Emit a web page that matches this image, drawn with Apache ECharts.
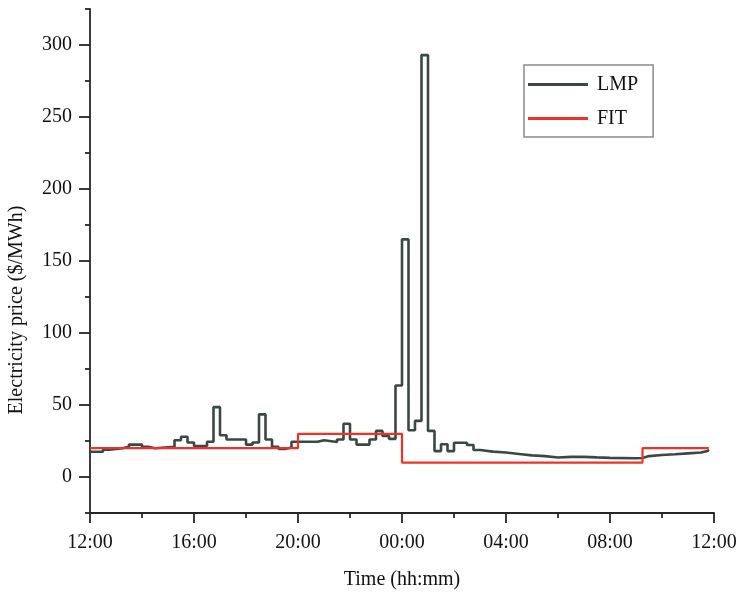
<!DOCTYPE html>
<html>
<head>
<meta charset="utf-8">
<script src="https://cdn.jsdelivr.net/npm/echarts@6/dist/echarts.min.js"></script>
<style>
  html, body { margin: 0; padding: 0; background: #fff; }
  #chart { width: 741px; height: 592px; }
</style>
</head>
<body>
<div id="chart"></div>
<script>
// Hours elapsed since 12:00 at which each LMP step begins, and the price held from there
const lmpHours = [0, 0.5, 0.75, 1.25, 1.5, 2.0, 2.25, 2.5, 3.25, 3.5, 3.75, 4.0, 4.5, 4.75, 5.0, 5.25,
  6.0, 6.25, 6.5, 6.75, 7.0, 7.25, 7.5, 7.75, 8.75, 9.0, 9.5, 9.75, 10.0, 10.25, 10.75, 11.0,
  11.25, 11.5, 11.75, 12.0, 12.25, 12.5, 12.75, 13.0, 13.25, 13.5, 13.75, 14.0, 14.5, 14.75,
  15.0, 15.5, 16.0, 16.5, 17.0, 17.5, 18.0, 18.5, 19.0, 19.5, 20.0, 21.0, 21.25, 21.5, 22.0,
  22.5, 23.0, 23.5, 23.75, 23.8];
const lmpPrices = [17.5, 19, 20, 21, 22.5, 21, 20, 21, 25.5, 28, 24, 21.5, 24.5, 48.5, 29, 26,
  22.5, 24, 43.5, 26, 21, 19.5, 20.5, 24.5, 25.5, 24.3, 26, 37, 26, 22.5, 26, 32,
  28.5, 26.5, 63.5, 165, 32.5, 39, 293, 32, 18, 22.7, 18, 23.8, 22.2, 18.7,
  17.6, 17, 16, 15, 14.5, 13.5, 14, 14, 13.6, 13.3, 13, 13.2, 14.5, 15.3, 15.8,
  16.4, 17, 18, 19, 19];

// Feed-in tariff steps
const fitHours = [0, 8, 12, 21.25, 23.8];
const fitPrices = [20, 30, 10, 20, 20];

// Axis ticks
const priceTicks = [0, 50, 100, 150, 200, 250, 300];
const priceMinorTicks = [-25, 25, 75, 125, 175, 225, 275, 325];

const FONT = "'Liberation Serif', 'Times New Roman', serif";
const AXIS_COLOR = '#262626';

const pairs = (xs, ys) => xs.map((x, i) => [x, ys[i]]);

const chart = echarts.init(document.getElementById('chart'), null, { renderer: 'canvas' });

chart.setOption({
  animation: false,
  backgroundColor: '#ffffff',
  grid: { left: 90, right: 27, top: 9, bottom: 79, containLabel: false, outerBoundsMode: 'none' },
  legend: {
    orient: 'vertical',
    left: 524,
    top: 65,
    padding: [9, 15, 8, 4],
    itemGap: 13,
    itemWidth: 60,
    itemHeight: 3,
    icon: 'rect',
    borderColor: '#8a8a8a',
    borderWidth: 1.5,
    backgroundColor: '#fff',
    textStyle: { fontFamily: FONT, fontSize: 20, color: '#111', padding: [0, 0, 0, 4], lineHeight: 21 },
    data: ['LMP', 'FIT']
  },
  xAxis: {
    type: 'value',
    min: 0,
    max: 24,
    interval: 4,
    name: 'Time (hh:mm)',
    nameLocation: 'middle',
    nameGap: 57,
    nameTextStyle: { fontFamily: FONT, fontSize: 20, color: '#111' },
    axisLine: { onZero: false, lineStyle: { color: AXIS_COLOR, width: 1.8 } },
    axisTick: { length: 10, lineStyle: { color: AXIS_COLOR, width: 1.8 } },
    minorTick: { show: true, splitNumber: 2, length: 5, lineStyle: { color: AXIS_COLOR, width: 1.8 } },
    axisLabel: {
      margin: 20,
      fontFamily: FONT, fontSize: 20, color: '#111',
      formatter: v => String((12 + v) % 24).padStart(2, '0') + ':00'
    },
    splitLine: { show: false }
  },
  yAxis: [
    {
      type: 'value',
      min: -25,
      max: 325,
      position: 'left',
      axisLine: { show: true, onZero: false, lineStyle: { color: AXIS_COLOR, width: 1.8 } },
      axisTick: { show: true, length: 11, customValues: priceTicks, lineStyle: { color: AXIS_COLOR, width: 1.8 } },
      axisLabel: { margin: 18, customValues: priceTicks, fontFamily: FONT, fontSize: 20, color: '#111' },
      splitLine: { show: false }
    },
    {
      type: 'value',
      min: -25,
      max: 325,
      position: 'left',
      axisLine: { show: false },
      axisTick: { show: true, length: 5, customValues: priceMinorTicks, lineStyle: { color: AXIS_COLOR, width: 1.8 } },
      axisLabel: { show: false },
      splitLine: { show: false }
    }
  ],
  graphic: [{
    type: 'text',
    x: 17,
    y: 310,
    rotation: Math.PI / 2,
    style: {
      text: 'Electricity price ($/MWh)',
      fontFamily: FONT,
      fontSize: 20,
      fill: '#111',
      align: 'center',
      verticalAlign: 'middle'
    }
  }],
  series: [
    {
      name: 'LMP',
      type: 'line',
      step: 'end',
      symbol: 'none',
      yAxisIndex: 0,
      data: pairs(lmpHours, lmpPrices),
      lineStyle: { color: '#3a4844', width: 2.6 },
      itemStyle: { color: '#3a4844' },
      z: 2
    },
    {
      name: 'FIT',
      type: 'line',
      step: 'end',
      symbol: 'none',
      yAxisIndex: 0,
      data: pairs(fitHours, fitPrices),
      lineStyle: { color: '#ef3226', width: 2.2 },
      itemStyle: { color: '#ef3226' },
      z: 3
    }
  ]
});
</script>
</body>
</html>
